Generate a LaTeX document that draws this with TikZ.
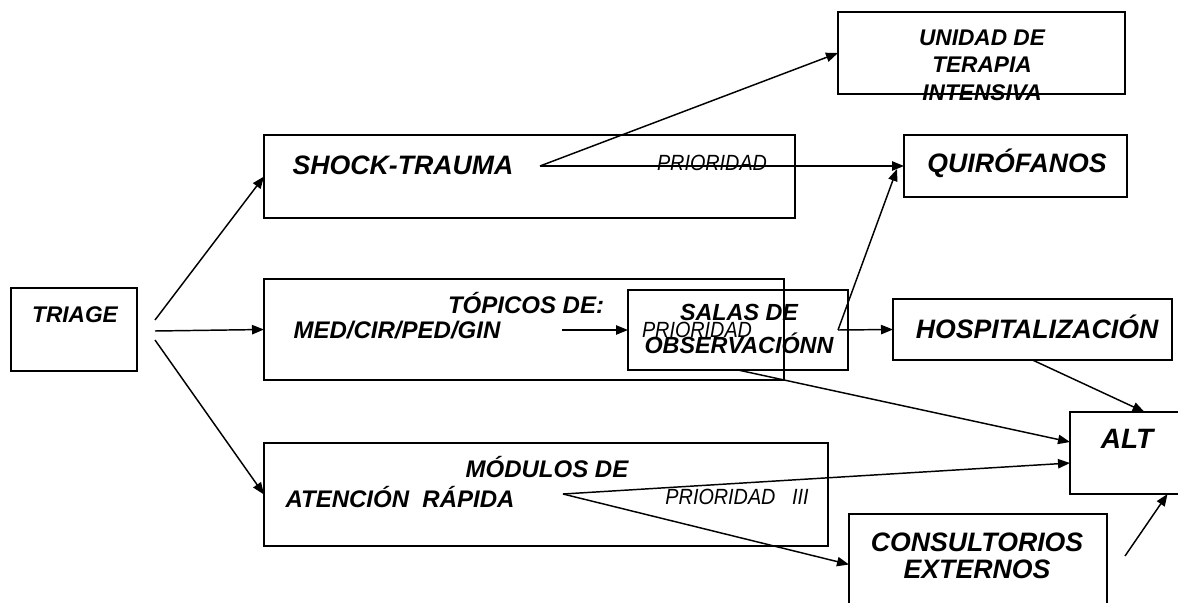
\documentclass[tikz,border=0pt]{standalone}
\usepackage{fontspec}
\setmainfont{Liberation Sans}
\newfontfamily\narrowsans[FakeStretch=0.9]{Liberation Sans}
\usetikzlibrary{arrows.meta,calc,fit}

\tikzset{
  caja/.style={draw, line width=1.5pt, inner sep=0pt, outer sep=0pt},
  rotulo/.style={font=\fontsize{#1}{20.5}\selectfont\bfseries\itshape, inner sep=0pt, align=center},
  rotulo/.default=18,
  prio/.style={font=\fontsize{16.5}{18}\selectfont\narrowsans\itshape, inner sep=0pt},
  flecha/.style={line width=1.1pt, -{Triangle[length=9pt,width=7pt]}},
}

\begin{document}
\begin{tikzpicture}[x=0.75pt,y=-0.75pt]
	\useasboundingbox (0,0) rectangle (1178,603);

	% cajas
	\node[caja, fit={(11,288) (137,371)}] (triage) {};
	\node[caja, fit={(264,135) (795,218)}] (shock) {};
	\node[caja, fit={(838,12) (1125,94)}] (uti) {};
	\node[caja, fit={(904,135) (1127,197)}] (quiro) {};
	\node[caja, fit={(264,279) (784,380)}] (topicos) {};
	\node[caja, fit={(628,290) (848,370)}] (salas) {};
	\node[caja, fit={(893,299) (1172,360)}] (hosp) {};
	\node[caja, fit={(1070,412) (1185,494)}] (alt) {};
	\node[caja, fit={(264,443) (828,546)}] (modulos) {};
	\node[caja, fit={(849,514) (1107,615)}] (consul) {};

	% textos
	\node[rotulo=17] (ttriage) at (75,315) {TRIAGE};
	\node[rotulo=20] (tshock) at (403,165) {SHOCK-TRAUMA};
	\node[prio] (prshock) at (712,163) {PRIORIDAD};
	\node[rotulo=17] (tuti) at (982,65) {UNIDAD DE\\TERAPIA\\INTENSIVA};
	\node[rotulo=20] (tquiro) at (1017,163) {QUIRÓFANOS};
	\node[rotulo] (ttop1) at (526,303) {TÓPICOS DE:};
	\node[rotulo] (ttop2) at (397,330) {MED/CIR/PED/GIN};
	\node[prio] (prsalas) at (697,330) {PRIORIDAD};
	\node[rotulo, font=\fontsize{17.5}{24.75}\selectfont\bfseries\itshape] (tsalas) at (739,328.5) {SALAS DE\\OBSERVACIÓNN};
	\node[rotulo=20] (thosp) at (1037,327) {HOSPITALIZACIÓN};
	\node[rotulo=21] (talt) at (1127,439) {ALT};
	\node[rotulo] (tmod1) at (547,467) {MÓDULOS DE};
	\node[rotulo] (tmod2) at (400,497) {ATENCIÓN\ \ RÁPIDA};
	\node[prio] (prmod) at (737,497) {PRIORIDAD\ \ \ III};
	\node[rotulo=20] (tcons) at (977,556) {CONSULTORIOS\\EXTERNOS};

	% puntos de salida
	\coordinate (ptriA) at (155,320);
	\coordinate (ptriB) at (155,331);
	\coordinate (ptriC) at (155,340);
	\coordinate (vshock) at (540,166);
	\coordinate (vtop) at (562,330);
	\coordinate (vsalas) at (838,330);
	\coordinate (vmod) at (563,494);
	\coordinate (vcons) at (1125,556);

	\path (ptriA) edge[flecha] (shock.west); % de triage a shock
	\path (ptriB) edge[flecha] (topicos.west); % de triage a topicos
	\path (ptriC) edge[flecha] (modulos.west); % de triage a modulos

	\path (vshock) edge[flecha] (uti.west); % de shock a uti
	\path (vshock) edge[flecha] (quiro.west); % de shock a quirofanos

	\path (vtop) edge[flecha] (salas.west); % de topicos a salas
	\path (vsalas) edge[flecha] ($(quiro.west)+(-7,3)$); % de salas a quirofanos
	\path (vsalas) edge[flecha] (hosp.west); % de salas a hospitalizacion
	\path (salas.south) edge[flecha] ($(alt.west)+(0,-11)$); % de salas a alta

	\path (hosp.south) edge[flecha] ($(alt.north)+(17,0)$); % de hospitalizacion a alta

	\path (vmod) edge[flecha] ($(alt.west)+(0,10)$); % de modulos a alta
	\path (vmod) edge[flecha] (consul.west); % de modulos a consultorios
	\path (vcons) edge[flecha] ($(alt.south)+(40,0)$); % de consultorios a alta
\end{tikzpicture}
\end{document}
